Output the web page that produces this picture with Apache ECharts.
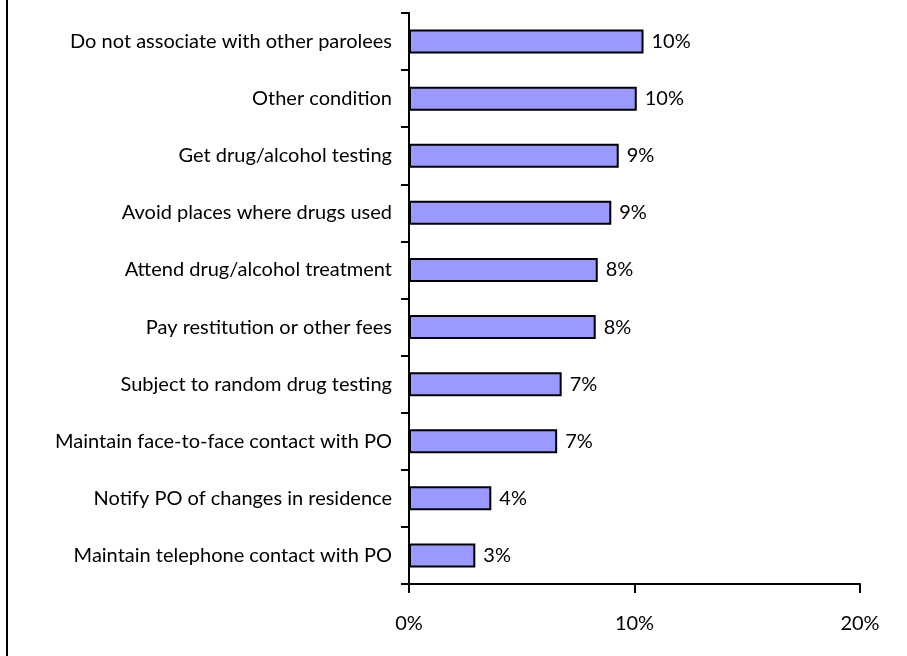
<!DOCTYPE html>
<html>
<head>
<meta charset="utf-8">
<script src="https://cdn.jsdelivr.net/npm/echarts@6/dist/echarts.min.js"></script>
<style>
html,body{margin:0;padding:0;background:#fff;}
#chart{width:907px;height:656px;}
</style>
</head>
<body>
<div id="chart"></div>
<script>
const categories = [
  "Do not associate with other parolees",
  "Other condition",
  "Get drug/alcohol testing",
  "Avoid places where drugs used",
  "Attend drug/alcohol treatment",
  "Pay restitution or other fees",
  "Subject to random drug testing",
  "Maintain face-to-face contact with PO",
  "Notify PO of changes in residence",
  "Maintain telephone contact with PO"
];
const values = [10.4, 10.1, 9.3, 8.97, 8.37, 8.28, 6.77, 6.57, 3.65, 2.94];
const xTicks = [0, 10, 20];

const FONT = "Lato";
const FS = 20;
const chart = echarts.init(document.getElementById('chart'), null, {renderer: 'canvas'});
chart.setOption({
  animation: false,
  backgroundColor: '#ffffff',
  grid: {left: 409, right: 47, top: 13, bottom: 72, containLabel: false},
  xAxis: {
    type: 'value',
    min: xTicks[0],
    max: xTicks[xTicks.length - 1],
    interval: xTicks[1] - xTicks[0],
    splitLine: {show: false},
    axisLine: {show: true, lineStyle: {color: '#000', width: 2}},
    axisTick: {show: true, length: 9, lineStyle: {color: '#000', width: 2}},
    axisLabel: {formatter: '{value}%', color: '#000', fontSize: FS, fontFamily: FONT, margin: 30}
  },
  yAxis: {
    type: 'category',
    data: categories,
    inverse: true,
    axisLine: {show: true, lineStyle: {color: '#000', width: 2}},
    axisTick: {show: true, length: 8, lineStyle: {color: '#000', width: 2}},
    axisLabel: {color: '#000', fontSize: FS, fontFamily: FONT, margin: 17}
  },
  series: [{
    type: 'bar',
    data: values,
    barWidth: 24,
    itemStyle: {color: '#9999FF', borderColor: '#000', borderWidth: 2},
    label: {
      show: true,
      position: 'right',
      distance: 8,
      color: '#000',
      fontSize: FS,
      fontFamily: FONT,
      formatter: p => Math.round(p.value) + '%'
    }
  }],
  graphic: [{
    type: 'line',
    shape: {x1: 7, y1: 0, x2: 7, y2: 656},
    style: {stroke: '#000', lineWidth: 2}
  }]
});
</script>
</body>
</html>
